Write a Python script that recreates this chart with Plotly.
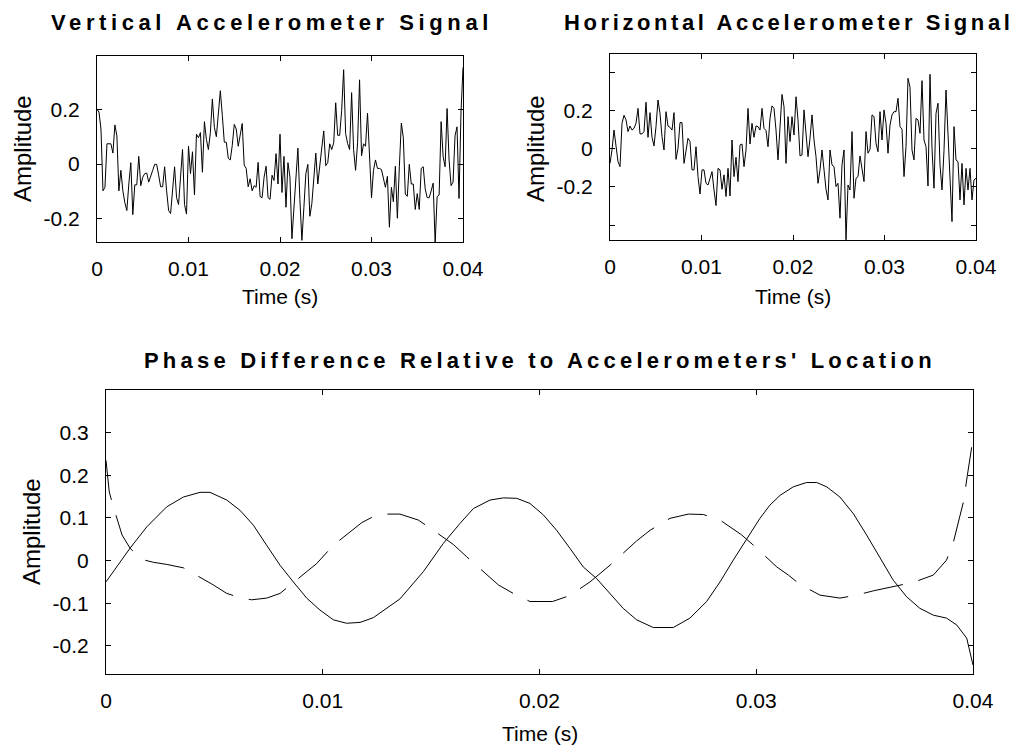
import numpy as np
import plotly.graph_objects as go

# ---------------- data ----------------
vertical_signal = [
    0.200, 0.190, 0.128, -0.098, -0.085, 0.074, 0.074, 0.074, 0.040, 0.143,
    0.103, -0.098, -0.023, -0.098, -0.141, -0.170, -0.073, 0.005, -0.185, -0.076,
    -0.076, 0.028, -0.079, -0.048, -0.035, -0.033, -0.066, -0.041, -0.023, -0.001,
    -0.001, -0.041, -0.083, -0.083, -0.010, -0.098, -0.170, -0.181, -0.098, -0.010,
    -0.123, -0.148, -0.048, 0.053, -0.148, -0.183, 0.065, -0.035, 0.045, -0.113,
    0.109, 0.096, 0.115, -0.030, 0.155, 0.090, 0.053, 0.115, 0.238, 0.134,
    0.100, 0.190, 0.268, 0.178, 0.080, 0.080, 0.021, 0.015, 0.068, 0.145,
    0.128, 0.065, 0.103, 0.148, -0.004, -0.016, -0.083, -0.054, -0.098, -0.079,
    -0.085, 0.006, -0.119, -0.123, -0.048, -0.008, -0.123, -0.129, -0.041, -0.060,
    0.038, -0.073, 0.109, -0.104, 0.028, -0.158, 0.005, -0.048, -0.273, -0.148,
    -0.029, 0.058, -0.129, -0.279, -0.160, -0.035, -0.001, -0.191, -0.145, -0.048,
    0.040, -0.073, 0.005, 0.059, 0.121, -0.006, 0.005, 0.074, 0.053, 0.078,
    0.224, 0.105, 0.105, 0.196, 0.345, 0.111, 0.075, 0.053, 0.261, 0.053,
    -0.023, 0.078, 0.308, 0.030, 0.074, 0.065, 0.186, 0.028, -0.123, -0.023,
    0.015, -0.016, -0.016, -0.020, -0.060, -0.085, -0.045, -0.231, -0.085, -0.138,
    -0.008, -0.198, -0.010, 0.150, 0.096, -0.110, -0.118, -0.001, -0.073, -0.073,
    -0.166, -0.108, -0.166, -0.016, -0.010, -0.091, -0.123, -0.123, -0.098, -0.070,
    -0.291, -0.119, -0.113, 0.155, 0.028, -0.010, 0.203, 0.015, -0.079, -0.066,
    0.103, 0.136, -0.126, 0.190, 0.353,
]

horizontal_signal = [
    -0.077, -0.007, 0.097, 0.010, -0.068, -0.094, 0.132, 0.174, 0.150, 0.089,
    0.118, 0.097, 0.106, 0.132, 0.210, 0.077, 0.077, 0.089, 0.242, 0.059,
    0.188, 0.059, 0.014, 0.115, 0.254, 0.184, 0.063, -0.007, 0.193, 0.118,
    0.111, 0.097, 0.188, -0.056, 0.002, 0.136, 0.136, -0.077, -0.003, 0.054,
    0.037, -0.111, -0.111, 0.010, -0.146, -0.237, -0.111, -0.111, -0.181, -0.190,
    -0.155, -0.120, -0.216, -0.297, -0.103, -0.111, -0.212, -0.137, -0.250, -0.103,
    -0.247, 0.045, -0.146, -0.045, -0.172, 0.019, 0.024, -0.094, -0.007, 0.210,
    0.024, 0.132, 0.059, 0.118, 0.115, 0.097, 0.210, 0.106, 0.094, 0.010,
    0.158, 0.223, 0.210, 0.097, -0.059, 0.118, 0.283, 0.219, -0.077, 0.167,
    0.037, 0.167, 0.071, 0.271, 0.150, -0.038, -0.033, 0.202, 0.066, -0.042,
    0.054, 0.176, 0.045, -0.042, -0.181, -0.111, -0.007, -0.129, -0.212, -0.268,
    -0.007, -0.085, -0.094, -0.198, -0.181, -0.363, -0.085, -0.007, -0.476, -0.190,
    -0.216, 0.089, -0.259, -0.155, -0.146, -0.038, -0.120, -0.172, 0.089, -0.024,
    -0.003, 0.176, 0.167, 0.028, -0.016, 0.193, 0.045, 0.202, 0.132, -0.024,
    0.123, 0.176, 0.193, 0.193, 0.263, 0.115, 0.101, -0.146, 0.010, 0.367,
    0.320, -0.007, -0.059, 0.158, 0.150, 0.080, 0.355, 0.045, 0.010, -0.195,
    0.388, 0.002, -0.207, 0.184, 0.237, -0.085, -0.216, -0.010, 0.306, 0.045,
    -0.120, -0.381, 0.115, -0.059, -0.068, -0.268, -0.077, -0.294, -0.103, -0.216,
    -0.103, -0.268, -0.163, -0.155,
]

phase_solid_t = [
    0.0, 0.00034, 0.00111, 0.00188, 0.0028, 0.00357, 0.00434, 0.0048, 0.00557, 0.00618,
    0.0068, 0.00741, 0.00803, 0.00864, 0.00926, 0.00987, 0.01049, 0.0111, 0.01172, 0.01233,
    0.01295, 0.01356, 0.01464, 0.01556, 0.01633, 0.01695, 0.01772, 0.01833, 0.01895, 0.01956,
    0.02018, 0.02079, 0.0214, 0.02202, 0.02263, 0.02325, 0.02386, 0.02448, 0.02525, 0.02617,
    0.02694, 0.02771, 0.02833, 0.02894, 0.02956, 0.03017, 0.03063, 0.0311, 0.03171, 0.03232,
    0.03279, 0.03325, 0.03386, 0.03448, 0.03509, 0.03571, 0.03632, 0.03694, 0.03755, 0.03817,
    0.03878, 0.03925, 0.03971, 0.04,
]
phase_solid_v = [
    -0.050, -0.026, 0.029, 0.079, 0.126, 0.149, 0.160, 0.160, 0.142, 0.118,
    0.083, 0.036, -0.011, -0.050, -0.088, -0.116, -0.139, -0.147, -0.145, -0.134,
    -0.112, -0.090, -0.026, 0.040, 0.087, 0.122, 0.142, 0.147, 0.146, 0.134,
    0.107, 0.071, 0.029, -0.015, -0.042, -0.077, -0.112, -0.139, -0.157, -0.157,
    -0.135, -0.096, -0.050, 0.001, 0.052, 0.099, 0.130, 0.153, 0.173, 0.183,
    0.183, 0.173, 0.149, 0.110, 0.060, 0.005, -0.046, -0.085, -0.112, -0.128,
    -0.135, -0.151, -0.182, -0.245,
]

phase_dashed_t = [
    0.0, 0.00015, 0.00034, 0.00074, 0.00111, 0.00163, 0.00218, 0.0028, 0.00357, 0.00418,
    0.00495, 0.00557, 0.00618, 0.00672, 0.00741, 0.00803, 0.00914, 0.00972, 0.01049, 0.01118,
    0.0118, 0.01233, 0.0128, 0.01356, 0.01441, 0.0151, 0.01602, 0.01664, 0.0174, 0.0181,
    0.01879, 0.01956, 0.0206, 0.0214, 0.02233, 0.02325, 0.02448, 0.0251, 0.02602, 0.02687,
    0.02756, 0.02833, 0.02933, 0.02987, 0.03095, 0.03148, 0.03202, 0.03294, 0.03386, 0.03463,
    0.0354, 0.03648, 0.03725, 0.03817, 0.03878, 0.0391, 0.03956, 0.03974, 0.04,
]
phase_dashed_v = [
    0.235, 0.161, 0.126, 0.060, 0.029, 0.003, -0.004, -0.009, -0.017, -0.034,
    -0.057, -0.077, -0.087, -0.092, -0.088, -0.077, -0.032, -0.007, 0.036, 0.064,
    0.089, 0.103, 0.109, 0.109, 0.095, 0.071, 0.038, 0.009, -0.026, -0.057,
    -0.077, -0.096, -0.096, -0.082, -0.050, -0.011, 0.046, 0.071, 0.099, 0.109,
    0.108, 0.095, 0.060, 0.036, -0.015, -0.034, -0.056, -0.081, -0.088, -0.081,
    -0.071, -0.060, -0.051, -0.034, 0.001, 0.044, 0.138, 0.200, 0.286,
]

x_tick_vals = [0, 0.01, 0.02, 0.03, 0.04]
x_tick_text = ["0", "0.01", "0.02", "0.03", "0.04"]
v_tick_vals = [-0.2, 0, 0.2]
v_tick_text = ["-0.2", "0", "0.2"]
h_tick_vals = [-0.4, -0.2, 0, 0.2, 0.4]
h_tick_text = ["", "-0.2", "0", "0.2", ""]
p_tick_vals = [-0.2, -0.1, 0, 0.1, 0.2, 0.3]
p_tick_text = ["-0.2", "-0.1", "0", "0.1", "0.2", "0.3"]

t_vert = np.linspace(0, 0.04, len(vertical_signal))
t_horz = np.linspace(0, 0.04, len(horizontal_signal))

# ---------------- figure ----------------
W, H = 1023, 752
FONT = "Liberation Sans, Arial, Helvetica, sans-serif"
fig = go.Figure()

line = dict(color="black", width=1)
fig.add_trace(go.Scatter(x=t_vert, y=vertical_signal, mode="lines", line=line,
                         xaxis="x", yaxis="y", showlegend=False))
fig.add_trace(go.Scatter(x=t_horz, y=horizontal_signal, mode="lines", line=line,
                         xaxis="x2", yaxis="y2", showlegend=False))
fig.add_trace(go.Scatter(x=phase_solid_t, y=phase_solid_v, mode="lines", line=line,
                         xaxis="x3", yaxis="y3", showlegend=False))
fig.add_trace(go.Scatter(x=phase_dashed_t, y=phase_dashed_v, mode="lines",
                         line=dict(color="black", width=1, dash="40px,16px"),
                         xaxis="x3", yaxis="y3", showlegend=False))


def px_x(p):
    return p / W


def px_y(p):
    return 1 - p / H


def axis_common():
    return dict(showline=True, linecolor="black", linewidth=1, mirror="ticks",
                ticks="inside", ticklen=5, tickcolor="black", tickwidth=1,
                showgrid=False, zeroline=False, automargin=False,
                tickfont=dict(family=FONT, size=21, color="black"))


fig.update_layout(
    width=W, height=H, autosize=False, showlegend=False,
    margin=dict(l=0, r=0, t=0, b=0, pad=0),
    paper_bgcolor="white", plot_bgcolor="white",
    font=dict(family=FONT, size=20, color="black"),
    xaxis=dict(domain=[px_x(97), px_x(463)], range=[0, 0.04], anchor="y",
               tickvals=x_tick_vals, ticktext=x_tick_text, ticklabelstandoff=8, **axis_common()),
    yaxis=dict(domain=[px_y(242), px_y(56)], range=[-0.285, 0.395], anchor="x",
               tickvals=v_tick_vals, ticktext=v_tick_text, ticklabelstandoff=12, **axis_common()),
    xaxis2=dict(domain=[px_x(610), px_x(976)], range=[0, 0.04], anchor="y2",
                tickvals=x_tick_vals, ticktext=x_tick_text, ticklabelstandoff=8, **axis_common()),
    yaxis2=dict(domain=[px_y(240), px_y(54)], range=[-0.477, 0.494], anchor="x2",
                tickvals=h_tick_vals, ticktext=h_tick_text, ticklabelstandoff=12, **axis_common()),
    xaxis3=dict(domain=[px_x(106), px_x(973)], range=[0, 0.04], anchor="y3",
                tickvals=x_tick_vals, ticktext=x_tick_text, ticklabelstandoff=8, **axis_common()),
    yaxis3=dict(domain=[px_y(674), px_y(390)], range=[-0.266, 0.4], anchor="x3",
                tickvals=p_tick_vals, ticktext=p_tick_text, ticklabelstandoff=12, **axis_common()),
)


def label(text, x, y, angle=0, size=20, bold=False, spacing=0):
    t = text
    if spacing:
        t = '<span style="letter-spacing:%gpx">%s</span>' % (spacing, t)
    if bold:
        t = "<b>" + t + "</b>"
    fig.add_annotation(text=t, x=px_x(x), y=px_y(y), xref="paper", yref="paper",
                       showarrow=False, textangle=angle, xanchor="center", yanchor="middle",
                       font=dict(family=FONT, size=size, color="black"))


# titles
label("Vertical Accelerometer Signal", 272, 22, size=22, bold=True, spacing=4.6)
label("Horizontal Accelerometer Signal", 788, 22, size=22, bold=True, spacing=3.6)
label("Phase Difference Relative to Accelerometers' Location", 540, 360, size=22, bold=True, spacing=4.2)

# axis titles
label("Time (s)", 280, 297, size=21)
label("Time (s)", 793, 297, size=21)
label("Time (s)", 540, 733, size=21)
label("Amplitude", 23, 149, angle=-90, size=24)
label("Amplitude", 536, 149, angle=-90, size=24)
label("Amplitude", 31, 532, angle=-90, size=24)

post = ("document.documentElement.style.margin='0';"
        "document.body.style.margin='0';document.body.style.padding='0';"
        "document.body.style.overflow='hidden';"
        "var gd=document.getElementById('{plot_id}');"
        "Plotly.relayout(gd,{width:1023,height:752});")

fig.write_html("out.html", default_width="1023px", default_height="752px",
               config={"responsive": False, "displayModeBar": False}, post_script=post)
